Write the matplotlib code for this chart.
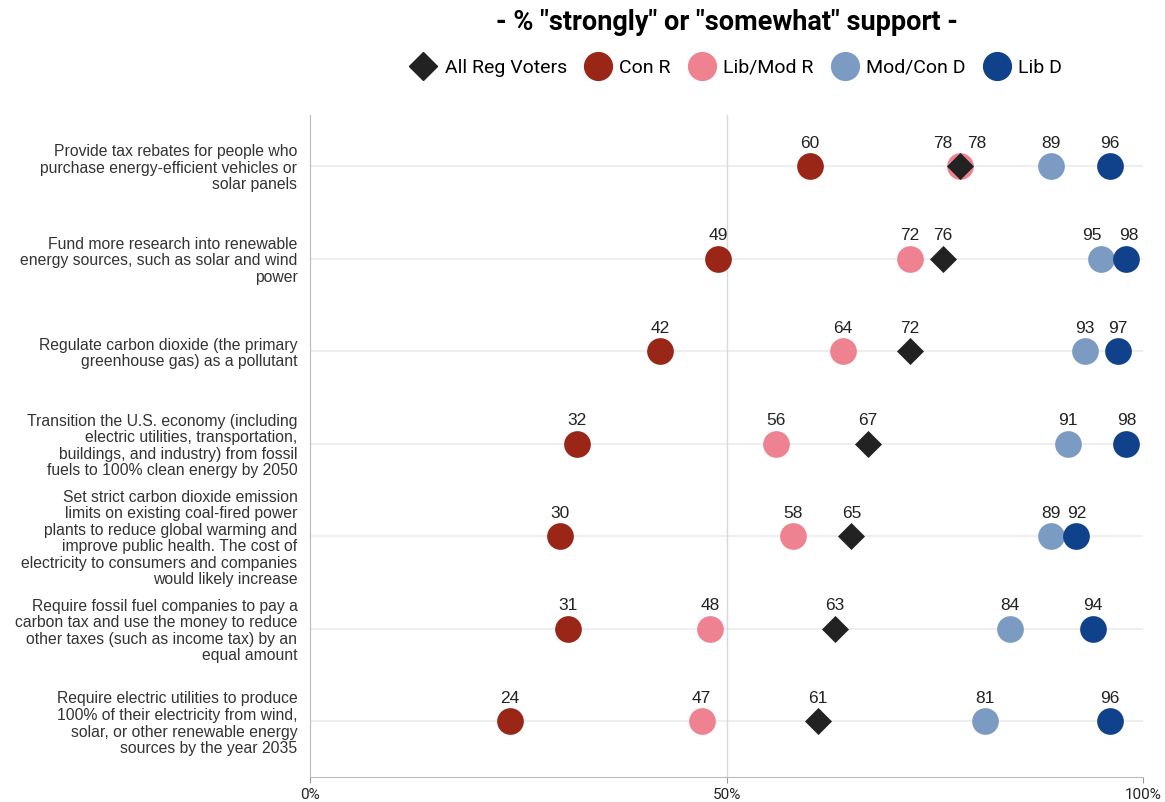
import matplotlib
matplotlib.use("Agg")
import matplotlib.pyplot as plt
from matplotlib.lines import Line2D

# data
policies = [
    "Provide tax rebates for people who\npurchase energy-efficient vehicles or\nsolar panels",
    "Fund more research into renewable\nenergy sources, such as solar and wind\npower",
    "Regulate carbon dioxide (the primary\ngreenhouse gas) as a pollutant",
    "Transition the U.S. economy (including\nelectric utilities, transportation,\nbuildings, and industry) from fossil\nfuels to 100% clean energy by 2050",
    "Set strict carbon dioxide emission\nlimits on existing coal-fired power\nplants to reduce global warming and\nimprove public health. The cost of\nelectricity to consumers and companies\nwould likely increase",
    "Require fossil fuel companies to pay a\ncarbon tax and use the money to reduce\nother taxes (such as income tax) by an\nequal amount",
    "Require electric utilities to produce\n100% of their electricity from wind,\nsolar, or other renewable energy\nsources by the year 2035",
]
con_r = [60, 49, 42, 32, 30, 31, 24]
libmod_r = [78, 72, 64, 56, 58, 48, 47]
all_reg = [78, 76, 72, 67, 65, 63, 61]
modcon_d = [89, 95, 93, 91, 89, 84, 81]
lib_d = [96, 98, 97, 98, 92, 94, 96]

groups = [
    ("Con R", con_r, "o", "#9a2617"),
    ("Lib/Mod R", libmod_r, "o", "#ee8291"),
    ("Mod/Con D", modcon_d, "o", "#7c9bc3"),
    ("Lib D", lib_d, "o", "#0f428a"),
    ("All Reg Voters", all_reg, "D", "#222222"),
]
# label nudges (points) where labels would collide
nudge = {(0, "Lib/Mod R"): -12, (0, "All Reg Voters"): 12,
         (1, "Mod/Con D"): -7, (1, "Lib D"): 2}

fig = plt.figure(figsize=(11.65, 8.02), dpi=100)
ax = fig.add_axes([310 / 1165, 1 - 777 / 802, (1143 - 310) / 1165, (777 - 115) / 802])

rows = list(range(len(policies)))
for r in rows:
    ax.axhline(r, color="#ebebeb", lw=1.2, zorder=0)
ax.axvline(50, color="#d9d9d9", lw=1, zorder=0)

for name, vals, mk, col in groups:
    if mk == "o":
        ax.scatter(vals, rows, s=370, marker="o", color=col, zorder=3, clip_on=False, linewidths=0)
    else:
        ax.scatter(vals, rows, s=190, marker="D", color=col, zorder=4, clip_on=False, linewidths=0)
    for r, v in zip(rows, vals):
        dx = nudge.get((r, name), 0)
        ax.annotate(f"{v}", (v, r), xytext=(dx, 16.5), textcoords="offset points",
                    ha="center", va="center", fontsize=12.5, color="#222222",
                    family="Liberation Sans")

ax.set_xlim(0, 100)
ax.set_ylim(6.6, -0.55)
ax.set_xticks([0, 50, 100])
ax.set_xticklabels(["0%", "50%", "100%"], fontsize=11, family="Roboto", color="#222222")
ax.set_yticks(rows)
ax.set_yticklabels(policies, fontsize=11.3, family="Liberation Sans", color="#333333",
                   linespacing=1.13)
ax.tick_params(axis="y", length=0, pad=9)
ax.tick_params(axis="x", length=4, color="#999999", pad=4)
for s in ["top", "right"]:
    ax.spines[s].set_visible(False)
ax.spines["left"].set_color("#bbbbbb")
ax.spines["bottom"].set_color("#bbbbbb")

fig.text(727 / 1165, 1 - 22 / 802, '- % "strongly" or "somewhat" support -', ha="center", va="center",
         fontsize=19.5, fontweight="bold", family="Roboto")

handles = [Line2D([], [], marker="D", color="#222222", ls="none", markersize=14)]
labels = ["All Reg Voters"]
for name, vals, mk, col in groups[:4]:
    handles.append(Line2D([], [], marker="o", color=col, ls="none", markersize=20))
    labels.append(name)
leg = fig.legend(handles, labels, loc="center", bbox_to_anchor=(733 / 1165, 1 - 68 / 802), ncol=5,
                 frameon=False, handletextpad=0.1, columnspacing=0.6,
                 prop={"family": "Roboto", "size": 14})

fig.savefig("out.png", dpi=100)
